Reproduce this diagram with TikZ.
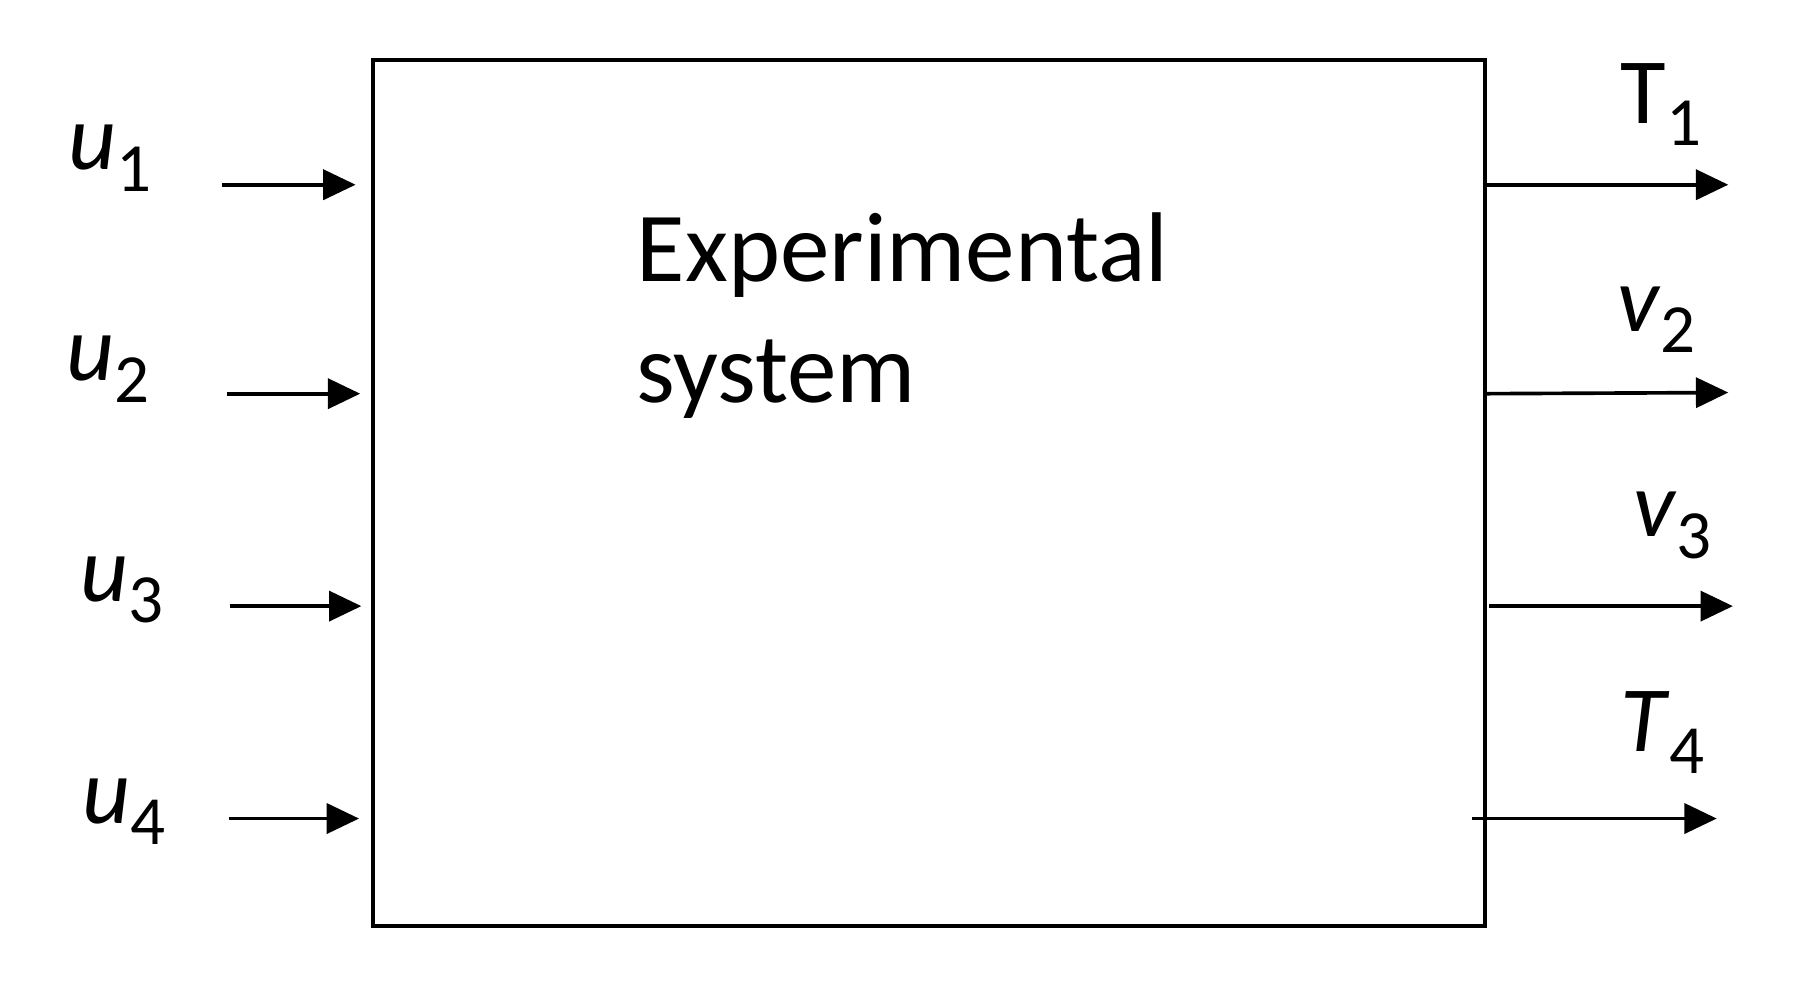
\documentclass[tikz,border=0pt]{standalone}
\usepackage{fontspec}
\setmainfont{Carlito}
\usetikzlibrary{arrows.meta}
\newcommand{\mysub}[1]{\raisebox{-0.23em}{\fontsize{17}{17}\selectfont #1}}
\tikzset{
  sysbox/.style={draw, line width=1pt, inner sep=0pt, minimum width=9.63cm, minimum height=7.50cm},
  arr/.style={line width=0.9pt, -{Triangle[length=0.28cm,width=0.26cm]}},
  lbl/.style={anchor=base west, inner sep=0pt, font=\fontsize{23}{23}\selectfont},
  bigtext/.style={anchor=base west, inner sep=0pt, align=left, font=\fontsize{24.4}{30}\selectfont}
}
\begin{document}
\begin{tikzpicture}[x=0.01cm, y=-0.01cm]
\useasboundingbox (0,0) rectangle (1560,851);
\node[sysbox] (sys) at (804.5,427) {};
\node[bigtext] (title) at (551,349) {Experimental\\system};
% inputs
\coordinate (i1s) at (192,160); \coordinate (i1e) at (308,160);
\coordinate (i2s) at (197,341); \coordinate (i2e) at (312,341);
\coordinate (i3s) at (199,525); \coordinate (i3e) at (313,525);
\coordinate (i4s) at (198,709); \coordinate (i4e) at (311,709);
\draw[arr] (i1s) -- (i1e);
\draw[arr] (i2s) -- (i2e);
\draw[arr] (i3s) -- (i3e);
\draw[arr] (i4s) -- (i4e);
% outputs
\coordinate (o1s) at (sys.east |- i1s); \coordinate (o1e) at (1497,160);
\coordinate (o2s) at (sys.east |- i2s); \coordinate (o2e) at (1497,340);
\coordinate (o3s) at (1290,525); \coordinate (o3e) at (1501,525);
\coordinate (o4s) at (1275,709); \coordinate (o4e) at (1487,709);
\draw[arr] (o1s) -- (o1e);
\draw[arr] (o2s) -- (o2e);
\draw[arr] (o3s) -- (o3e);
\draw[arr] (o4s) -- (o4e);
% labels
\node[lbl] (u1) at (59,147) {\textit{u}\mysub{1}};
\node[lbl] (u2) at (57,330) {\textit{u}\mysub{2}};
\node[lbl] (u3) at (69,521) {\textit{u}\mysub{3}};
\node[lbl] (u4) at (71,713) {\textit{u}\mysub{4}};
\node[lbl] (t1) at (1403,107) {T\mysub{1}};
\node[lbl] (v2) at (1400,287) {\textit{v}\mysub{2}};
\node[lbl] (v3) at (1414,465) {\textit{v}\mysub{3}};
\node[lbl] (t4) at (1403,651) {\textit{T}\mysub{4}};
\end{tikzpicture}
\end{document}
